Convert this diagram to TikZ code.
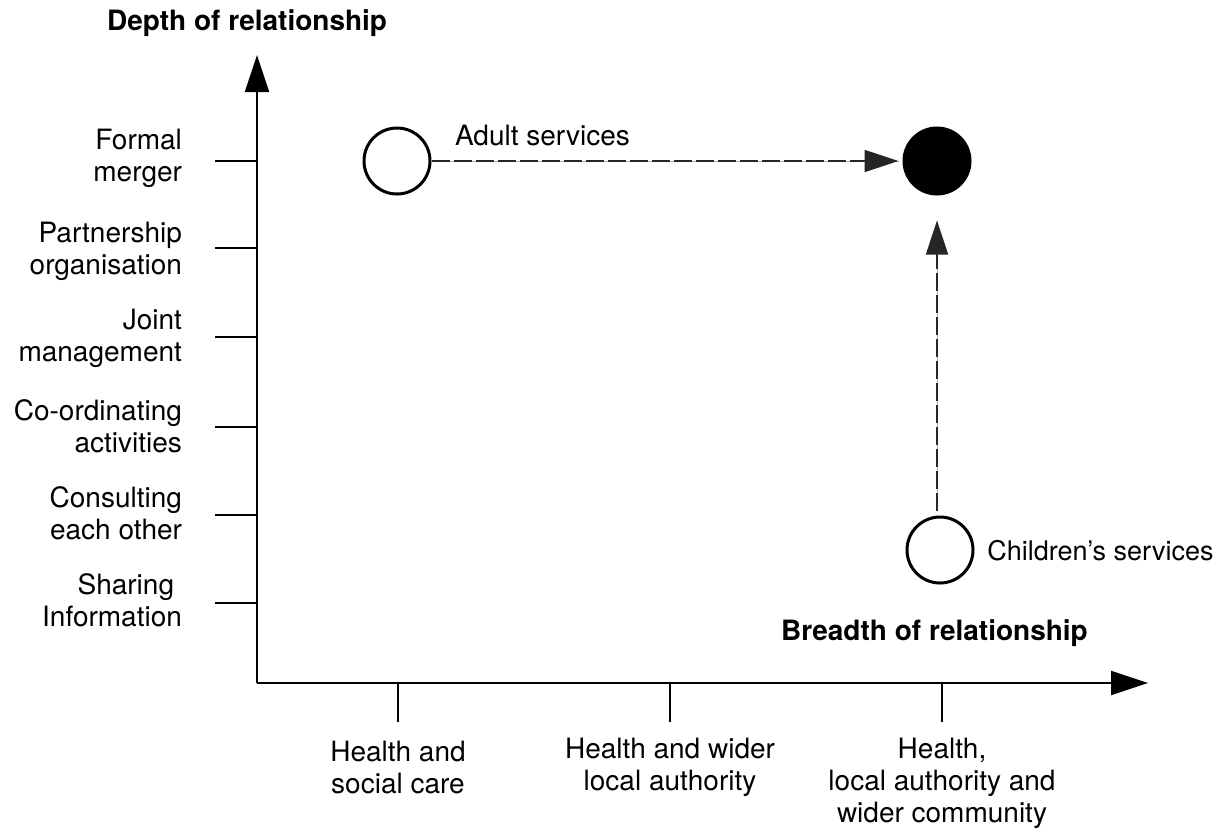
\documentclass[tikz,border=0pt]{standalone}
\usepackage{fontspec}
\setmainfont{TeX Gyre Heros}
\usetikzlibrary{arrows.meta}

\begin{document}
\begin{tikzpicture}[x=0.5pt,y=-0.5pt,
    every node/.style={font=\fontsize{14}{16}\selectfont},
    axis/.style={line width=1pt,-{Triangle[length=18.5pt,width=12pt]}},
    tick/.style={line width=1pt},
    level/.style={anchor=east,align=right},
    scope/.style={align=center},
    stage/.style={draw,circle,line width=1.5pt,minimum size=33pt,inner sep=0pt},
    move/.style={line width=0.9pt,draw=black!85,dash pattern=on 9pt off 2pt,
      preaction={draw=black!30,solid,arrows=-},
      -{Triangle[length=17pt,width=11pt]}}]
    \useasboundingbox (0,0) rectangle (1219,832);

    % axes
    \coordinate (o) at (257,683);
    \coordinate (ytip) at (257,55);
    \coordinate (xtip) at (1148,683);
    \draw [axis] (o) -- (ytip);
    \draw [axis] (o) -- (xtip);
    \node[anchor=base west,font=\fontsize{14}{16}\selectfont\bfseries] (depth) at (100,30) {Depth of relationship};
    \node[anchor=base west,font=\fontsize{14}{16}\selectfont\bfseries] (breadth) at (774,640) {Breadth of relationship};

    % depth levels
    \foreach \y in {161,248,337,427,515,603}
      \draw [tick] (257,\y) -- ++(-42,0);
    \node[level] (l6) at (189,158) {Formal\\merger};
    \node[level] (l5) at (189,251) {Partnership\\organisation};
    \node[level] (l4) at (189,338) {Joint\\management};
    \node[level] (l3) at (189,426) {Co-ordinating\\activities};
    \node[level] (l2) at (189,513) {Consulting\\each other};
    \node[level] (l1) at (189,600) {Sharing\kern0.28em\\Information};

    % breadth levels
    \foreach \x in {398,670,942}
      \draw [tick] (\x,683) -- ++(0,39);
    \node[scope] (b1) at (398,767) {Health and\\social care};
    \node[scope] (b2) at (670,767) {Health and wider\\local authority};
    \node[scope] (b3) at (942,783) {Health,\\local authority and\\wider community};

    % services
    \node[stage] (adult) at (397,161) {};
    \node[stage,fill=black] (merged) at (937,161) {};
    \node[stage] (child) at (940,550) {};
    \node[anchor=base west] (adultlbl) at (448,145) {Adult services};
    \node[anchor=base west,inner sep=0pt,font=\fontsize{13.5}{16}\selectfont] (childlbl) at (987,560) {Children’s services};
    \draw [move,shorten >=2pt] (adult) -- (merged);
    \draw [move,shorten <=2.5pt,shorten >=12.5pt] (child.north -| merged) -- (merged);

\end{tikzpicture}
\end{document}
